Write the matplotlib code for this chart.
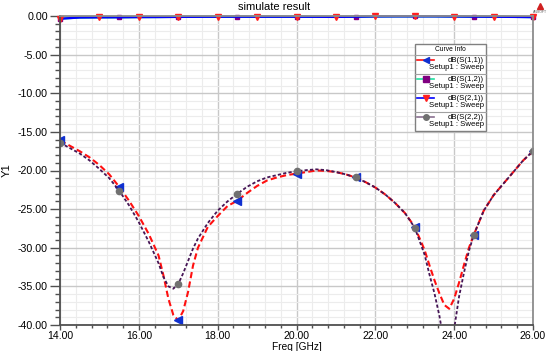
import numpy as np
import matplotlib
matplotlib.use('Agg')
import matplotlib.pyplot as plt
from matplotlib.lines import Line2D
from matplotlib.patches import Rectangle
from matplotlib.ticker import MultipleLocator, FormatStrFormatter

plt.rcParams['font.family'] = ['Liberation Sans', 'DejaVu Sans']

# reflection curves (dB)
freq = [14.0, 14.25, 14.5, 14.75, 15.0, 15.25, 15.5, 15.75, 16.0, 16.25,
        16.5, 16.625, 16.75, 16.875, 17.0, 17.125, 17.25, 17.375, 17.5, 17.75,
        18.0, 18.25, 18.5, 18.75, 19.0, 19.25, 19.5, 19.75, 20.0, 20.25,
        20.5, 20.75, 21.0, 21.25, 21.5, 21.75, 22.0, 22.25, 22.5, 22.75,
        23.0, 23.25, 23.375, 23.5, 23.625, 23.75, 23.875, 24.0, 24.125, 24.25,
        24.375, 24.5, 24.75, 25.0, 25.25, 25.5, 25.75, 26.0]
s11 = [-16.1, -16.8, -17.5, -18.3, -19.3, -20.5, -22.1, -23.9, -25.9, -28.2,
       -31.0, -33.6, -36.6, -38.7, -39.4, -38.2, -35.7, -32.3, -30.0, -27.3,
       -25.9, -24.6, -23.9, -22.9, -22.0, -21.3, -20.9, -20.6, -20.4, -20.2,
       -20.0, -20.05, -20.2, -20.5, -20.9, -21.5, -22.2, -23.1, -24.2, -25.5,
       -27.3, -30.3, -32.3, -34.2, -35.9, -37.4, -37.9, -36.6, -34.5, -32.2,
       -30.0, -28.3, -25.2, -23.2, -21.7, -20.2, -18.7, -17.5]
s22 = [-16.4, -17.1, -17.8, -18.7, -19.8, -21.0, -22.6, -24.5, -26.7, -29.2,
       -32.0, -33.8, -35.0, -35.3, -34.7, -33.3, -31.7, -30.1, -28.8, -26.8,
       -25.2, -24.0, -23.0, -22.1, -21.4, -20.9, -20.6, -20.3, -20.1, -19.95,
       -19.85, -19.95, -20.2, -20.5, -20.9, -21.5, -22.2, -23.1, -24.2, -25.5,
       -27.4, -30.9, -33.5, -35.9, -38.8, -42.5, -47.0, -40.5, -36.3, -33.2,
       -30.4, -28.3, -25.2, -23.2, -21.7, -20.2, -18.7, -17.5]
marker_freq = [14.0, 15.5, 17.0, 18.5, 20.0, 21.5, 23.0, 24.5, 26.0]

# transmission curves (dB)
freq_t = [14.0, 14.5, 15.0, 15.5, 16.0, 16.5, 17.0, 17.5, 18.0, 18.5,
          19.0, 19.5, 20.0, 20.5, 21.0, 21.5, 22.0, 22.5, 23.0, 23.5,
          24.0, 24.5, 25.0, 25.5, 26.0]
s21 = [-0.35, -0.2, -0.18, -0.17, -0.15, -0.14, -0.12, -0.11, -0.1, -0.1,
       -0.1, -0.1, -0.1, -0.11, -0.12, -0.1, -0.06, -0.05, -0.05, -0.05,
       -0.07, -0.09, -0.1, -0.12, -0.15]
s12 = [-0.35, -0.2, -0.18, -0.17, -0.15, -0.14, -0.12, -0.11, -0.1, -0.1,
       -0.1, -0.1, -0.1, -0.11, -0.12, -0.1, -0.06, -0.05, -0.05, -0.05,
       -0.07, -0.09, -0.1, -0.12, -0.15]

x_ticks = np.arange(14, 26.1, 2)
y_ticks = np.arange(-40, 0.1, 5)

W, H = 548, 351
fig = plt.figure(figsize=(5.48, 3.51), dpi=100)
ax = fig.add_axes([60 / W, 1 - 325 / H, 473 / W, 309 / H])

def fx(px):
    return px / W

def fy(py):
    return 1 - py / H

mark_idx = [freq.index(f) for f in marker_freq]

ax.plot(freq_t, s12, color='#00d090', lw=1.5, marker='s', ms=3.5,
        mfc='#800080', mec='#800080', markevery=3, clip_on=False)
ax.plot(freq_t, s21, color='#0000ff', lw=1.6, marker='v', ms=4.5,
        mfc='#ff2020', mec='#ff2020', markevery=2, clip_on=False)
ax.plot(freq, s11, color='#ff1010', lw=1.5, dashes=(3, 1.6), marker='<', ms=6,
        mfc='#1030d0', mec='#1030d0', markevery=mark_idx)
ax.plot(freq, s22, color='#451555', lw=1.3, dashes=(1.8, 1.2), marker='o', ms=4.5,
        mfc='#707070', mec='#707070', markevery=mark_idx)

ax.set_xlim(14, 26)
ax.set_ylim(-40, 0)
ax.set_xticks(x_ticks)
ax.set_yticks(y_ticks)
ax.xaxis.set_minor_locator(MultipleLocator(0.4))
ax.yaxis.set_minor_locator(MultipleLocator(1))
ax.xaxis.set_major_formatter(FormatStrFormatter('%.2f'))
ax.yaxis.set_major_formatter(FormatStrFormatter('%.2f'))
ax.tick_params(axis='y', which='major', length=7.2, width=1, pad=1.5,
               labelsize=7.7, color='#505050')
ax.tick_params(axis='y', which='minor', length=3.6, width=1, color='#505050')
ax.tick_params(axis='x', which='major', length=3.6, width=1, pad=1.0,
               labelsize=7.6, color='#505050')
ax.tick_params(axis='x', which='minor', length=2.2, width=1, color='#505050')
ax.set_axisbelow(True)
ax.grid(which='major', color='#c8c8c8', lw=1.0)
ax.grid(which='minor', color='#ececec', lw=0.8)
for side in ['left', 'bottom']:
    ax.spines[side].set_color('#505050')
    ax.spines[side].set_linewidth(1.3)
for side in ['right', 'top']:
    ax.spines[side].set_color('#8c8c8c')
    ax.spines[side].set_linewidth(1.3)

ax.set_xlabel('Freq [GHz]', fontsize=7.3, va='center')
ax.xaxis.set_label_coords(0.5, -0.07)
ax.set_ylabel('Y1', fontsize=8)
ax.yaxis.set_label_coords(-0.1015, 0.5)

fig.text(0.5, fy(6.5), 'simulate result', ha='center', va='center', fontsize=8)

# small logo in the corner
fig.add_artist(Line2D([fx(540)], [fy(6)], marker='^', ms=5, color='#d02020',
                      transform=fig.transFigure))
fig.text(fx(540), fy(12), 'ANSOFT', ha='center', va='center', fontsize=2.5,
         color='#606060')

# curve info box
fig.add_artist(Rectangle((fx(415), fy(131)), fx(486) - fx(415), fy(44) - fy(131),
                         transform=fig.transFigure, facecolor='white',
                         edgecolor='#808080', lw=1.0, zorder=5))
fig.text(fx(450.5), fy(49.5), 'Curve Info', ha='center', va='center',
         fontsize=4.8, zorder=6)
entries = [('dB(S(1,1))', '#ff1010', '<', '#1030d0'),
           ('dB(S(1,2))', '#20e0a0', 's', '#800080'),
           ('dB(S(2,1))', '#0000ff', 'v', '#ff2020'),
           ('dB(S(2,2))', '#8a7090', 'o', '#707070')]
for k, (name, lc, mk, mc) in enumerate(entries):
    top = 54.5 + 19 * k
    fig.add_artist(Line2D([fx(415), fx(486)], [fy(top), fy(top)], color='#a0a0a0',
                          lw=0.8, transform=fig.transFigure, zorder=6))
    y1 = top + 5.6
    y2 = top + 13.2
    fig.add_artist(Line2D([fx(417), fx(434)], [fy(y1), fy(y1)], color=lc, lw=1.2,
                          transform=fig.transFigure, zorder=7))
    fig.add_artist(Line2D([fx(425.5)], [fy(y1)], marker=mk, ms=4, color=mc,
                          transform=fig.transFigure, zorder=8))
    fig.text(fx(484), fy(y1), name, ha='right', va='center', fontsize=5.6, zorder=7)
    fig.text(fx(484), fy(y2), 'Setup1 : Sweep', ha='right', va='center',
             fontsize=5.6, zorder=7)

fig.savefig('out.png', dpi=100)
